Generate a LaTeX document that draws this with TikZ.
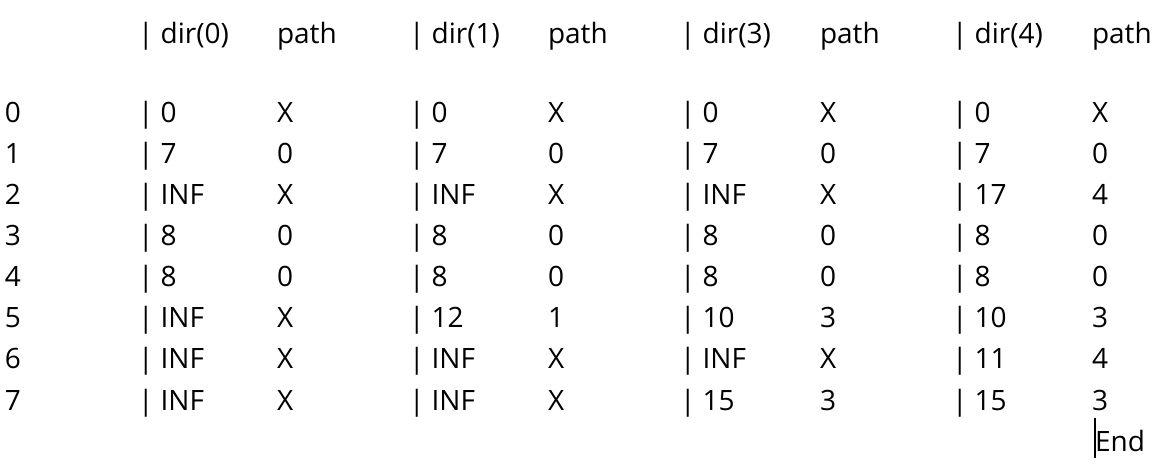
\documentclass[tikz,border=0pt]{standalone}
\usepackage{fontspec}
\setmainfont{Open Sans}
\begin{document}
\begin{tikzpicture}[x=1pt,y=-1pt,
  cell/.style={anchor=base west,inner sep=0pt,outer sep=0pt,font=\fontsize{28}{34}\selectfont},
  caret/.style={line width=2pt,black}]
\useasboundingbox (0,0) rectangle (1171,470);
% header
\node[cell] (h0) at (138,44) {| dir(0)};
\node[cell] (h1) at (277,44) {path};
\node[cell] (h2) at (409,44) {| dir(1)};
\node[cell] (h3) at (548,44) {path};
\node[cell] (h4) at (680,44) {| dir(3)};
\node[cell] (h5) at (820,44) {path};
\node[cell] (h6) at (952,44) {| dir(4)};
\node[cell] (h7) at (1092,44) {path};
% rows
\foreach \r/\a/\b/\c/\d/\e/\f/\g/\h [count=\i from 0] in {
  0/0/X/0/X/0/X/0/X,
  1/7/0/7/0/7/0/7/0,
  2/INF/X/INF/X/INF/X/17/4,
  3/8/0/8/0/8/0/8/0,
  4/8/0/8/0/8/0/8/0,
  5/INF/X/12/1/10/3/10/3,
  6/INF/X/INF/X/INF/X/11/4,
  7/INF/X/INF/X/15/3/15/3}{
  \pgfmathsetmacro{\yy}{123+41*\i}
  \node[cell] (r\i) at (5,\yy) {\r};
  \node[cell] (a\i) at (138,\yy) {| \a};
  \node[cell] (b\i) at (277,\yy) {\b};
  \node[cell] (c\i) at (409,\yy) {| \c};
  \node[cell] (d\i) at (548,\yy) {\d};
  \node[cell] (e\i) at (680,\yy) {| \e};
  \node[cell] (f\i) at (820,\yy) {\f};
  \node[cell] (g\i) at (952,\yy) {| \g};
  \node[cell] (k\i) at (1092,\yy) {\h};
}
\node[cell] (end) at (1095,451) {End};
\coordinate (ct) at (1095,418);
\coordinate (cb) at (1095,458);
\draw[caret] (ct) -- (cb);
\end{tikzpicture}
\end{document}
